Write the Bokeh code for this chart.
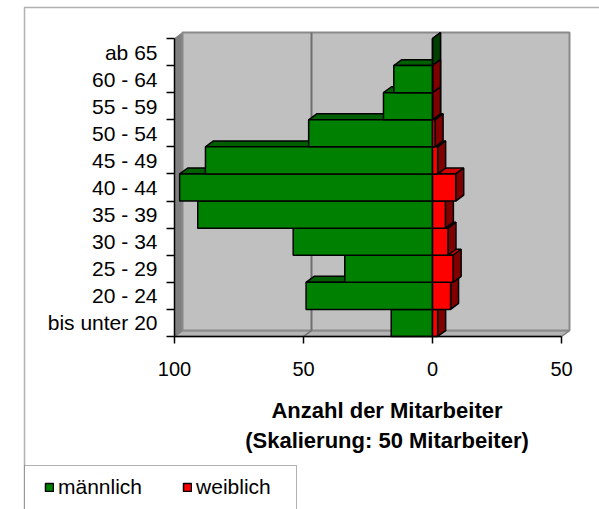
from bokeh.plotting import figure
from bokeh.models import (Range1d, LinearAxis, FixedTicker, Legend, LegendItem,
                          BoxAnnotation, ColumnDataSource)
from bokeh.embed import file_html
from bokeh.resources import INLINE

# ---------------- data ----------------
categories = ["bis unter 20", "20 - 24", "25 - 29", "30 - 34", "35 - 39", "40 - 44",
              "45 - 49", "50 - 54", "55 - 59", "60 - 64", "ab 65"]
maennlich = [16, 49, 34, 54, 91, 98, 88, 48, 19, 15, 0]
weiblich = [2, 7, 8, 6, 5, 9, 2, 1, 0, 0, None]
x_ticks = [-100, -50, 0, 50]
x_tick_labels = ["100", "50", "0", "50"]
axis_title = "Anzahl der Mitarbeiter\n(Skalierung: 50 Mitarbeiter)"
legend_labels = ["männlich", "weiblich"]

# ---------------- layout / style ----------------
W, H = 599, 509
X0_PX, PX_X = 432.0, 2.58      # pixel of value 0, pixels per unit
Y0_PX, PX_Y = 336.0, 27.09     # pixel of lower category boundary, pixels per category


def px2x(px):
    return (px - X0_PX) / PX_X


def px2y(py):
    return (Y0_PX - py) / PX_Y - 0.5


FONT = "Liberation Sans"
DX = 3.1      # 3D depth, x units
DY = 0.22     # 3D depth, category units
G_FRONT, G_TOP, G_SIDE = "#008000", "#005F00", "#004000"
R_FRONT, R_TOP, R_SIDE = "#FF0000", "#D00000", "#800000"
LW = 1.5

n = len(categories)
idx = list(range(n))
lo, hi = -0.5, n - 0.5
xmin, xmax = x_ticks[0], x_ticks[-1]

p = figure(width=W, height=H, x_range=Range1d(px2x(0), px2x(W)),
           y_range=Range1d(px2y(H), px2y(0)), x_axis_type=None, y_axis_type=None,
           min_border_left=0, min_border_right=0, min_border_top=0,
           min_border_bottom=0, output_backend="svg", toolbar_location=None)
p.outline_line_color = None
p.background_fill_color = "white"
p.border_fill_color = "white"

# ---- walls ----
p.patch([xmin, xmin + DX, xmin + DX, xmin], [lo, lo + DY, hi + DY, hi],
        fill_color="#808080", line_color="#808080")
p.patch([xmin, xmax, xmax + DX, xmin + DX], [lo, lo, lo + DY, lo + DY],
        fill_color="#B4B4B4", line_color="#808080", line_width=1.5)
p.quad(left=xmin + DX, right=xmax + DX, bottom=lo + DY, top=hi + DY,
       fill_color="#C0C0C0", line_color="#8A8A8A", line_width=2)
inner = x_ticks[1:-1]
p.segment(x0=[t + DX for t in inner], y0=[lo + DY] * len(inner),
          x1=[t + DX for t in inner], y1=[hi + DY] * len(inner),
          line_color="#707070", line_width=2)
p.segment(x0=inner, y0=[lo] * len(inner), x1=[t + DX for t in inner],
          y1=[lo + DY] * len(inner), line_color="#707070", line_width=1.5)

# ---- bars (3D faces) ----
g_top_x, g_top_y, g_side_x, g_side_y = [], [], [], []
r_top_x, r_top_y, r_side_x, r_side_y = [], [], [], []
for i, m in zip(idx, maennlich):
    t, b = i + 0.5, i - 0.5
    g_top_x.append([-m, 0, DX, -m + DX]); g_top_y.append([t, t, t + DY, t + DY])
    g_side_x.append([0, DX, DX, 0]); g_side_y.append([b, b + DY, t + DY, t])
for i, w in zip(idx, weiblich):
    if w is None:
        continue
    t, b = i + 0.5, i - 0.5
    r_top_x.append([0, w, w + DX, DX]); r_top_y.append([t, t, t + DY, t + DY])
    r_side_x.append([w, w + DX, w + DX, w]); r_side_y.append([b, b + DY, t + DY, t])

p.patches(g_top_x, g_top_y, fill_color=G_TOP, line_color="black", line_width=LW)
p.patches(r_top_x, r_top_y, fill_color=R_TOP, line_color="black", line_width=LW)
p.patches(g_side_x, g_side_y, fill_color=G_SIDE, line_color="black", line_width=LW)
p.patches(r_side_x, r_side_y, fill_color=R_SIDE, line_color="black", line_width=LW)

src_m = ColumnDataSource(dict(y=idx, left=[-m for m in maennlich], right=[0] * n))
wy = [i for i, w in zip(idx, weiblich) if w is not None]
wv = [w for w in weiblich if w is not None]
src_w = ColumnDataSource(dict(y=wy, left=[0] * len(wy), right=wv))
r_m = p.hbar(y="y", left="left", right="right", height=1, source=src_m,
             fill_color=G_FRONT, line_color="black", line_width=LW)
r_w = p.hbar(y="y", left="left", right="right", height=1, source=src_w,
             fill_color=R_FRONT, line_color="black", line_width=LW)

# ---- axes (fixed inside the frame) ----
yax = LinearAxis(bounds=(lo, hi), fixed_location=xmin,
                 ticker=FixedTicker(ticks=idx, minor_ticks=[i - 0.5 for i in range(n + 1)]),
                 major_label_overrides={i: c for i, c in zip(idx, categories)})
yax.major_tick_out = 0
yax.major_tick_in = 0
yax.minor_tick_out = 8
yax.minor_tick_in = 0
yax.minor_tick_line_color = "black"
yax.minor_tick_line_width = 1.5
yax.axis_line_width = 1.5
yax.axis_line_color = "black"
yax.major_label_standoff = 9
yax.major_label_text_font = FONT
yax.major_label_text_font_size = "21px"
yax.major_label_text_color = "black"
p.add_layout(yax, "left")

xax = LinearAxis(bounds=(xmin, xmax), fixed_location=lo, ticker=FixedTicker(ticks=x_ticks),
                 major_label_overrides={t: s for t, s in zip(x_ticks, x_tick_labels)})
xax.major_tick_out = 7
xax.major_tick_in = 0
xax.major_tick_line_color = "black"
xax.major_tick_line_width = 1.5
xax.axis_line_width = 1.5
xax.axis_line_color = "black"
xax.major_label_standoff = 18
xax.major_label_text_font = FONT
xax.major_label_text_font_size = "20px"
xax.major_label_text_color = "black"
p.add_layout(xax, "below")

# axis title, centred under the plot area (carried by a bare axis)
tax = LinearAxis(bounds=(px2x(174), px2x(W)), fixed_location=lo, ticker=FixedTicker(ticks=[]))
tax.axis_line_color = None
tax.major_tick_line_color = None
tax.minor_tick_line_color = None
tax.major_tick_out = 0
tax.minor_tick_out = 0
tax.axis_label = axis_title
tax.axis_label_text_font = FONT
tax.axis_label_text_font_size = "22px"
tax.axis_label_text_font_style = "bold"
tax.axis_label_text_color = "black"
tax.axis_label_standoff = 61
p.add_layout(tax, "below")

# ---- outer chart border and legend box ----
p.add_layout(BoxAnnotation(left=px2x(24), right=px2x(W + 20), top=px2y(7), bottom=px2y(H + 20),
                           fill_color=None, line_color="black", line_width=1.5))
p.add_layout(BoxAnnotation(left=px2x(24), right=px2x(296), top=px2y(465), bottom=px2y(H + 20),
                           fill_color="white", fill_alpha=1, line_color="black", line_width=1))

# ---- legend ----
legend = Legend(items=[LegendItem(label=legend_labels[0], renderers=[r_m]),
                       LegendItem(label=legend_labels[1], renderers=[r_w])],
                orientation="horizontal", location=(44, 10))
legend.label_text_font = FONT
legend.label_text_font_size = "21px"
legend.label_text_color = "black"
legend.glyph_width = 10
legend.glyph_height = 10
legend.label_standoff = 4
legend.spacing = 40
legend.padding = 0
legend.margin = 0
legend.border_line_color = None
legend.background_fill_alpha = 0
p.add_layout(legend, "center")

open("out.html", "w").write(file_html(p, INLINE))
